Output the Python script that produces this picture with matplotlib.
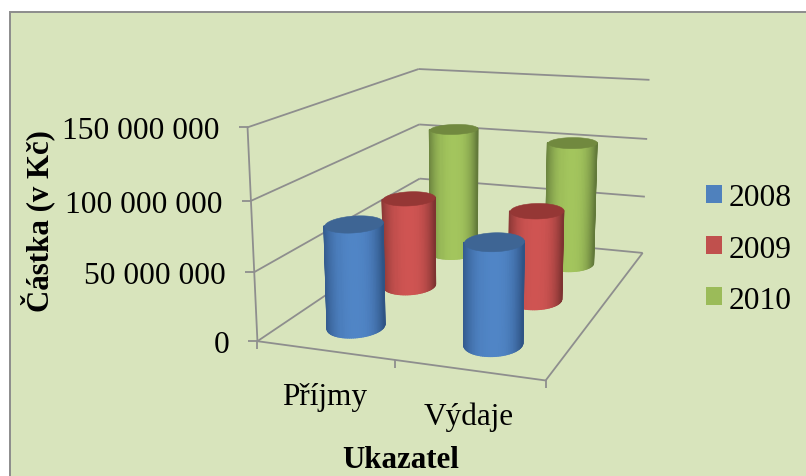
import numpy as np
import matplotlib
matplotlib.use('Agg')
import matplotlib.pyplot as plt
from matplotlib.patches import Patch, Rectangle
from mpl_toolkits.mplot3d import proj3d
from mpl_toolkits.mplot3d.art3d import Line3DCollection, Poly3DCollection

plt.rcParams['font.family'] = ['Liberation Serif', 'DejaVu Serif']

# data
categories = ['Příjmy', 'Výdaje']
years = ['2008', '2009', '2010']
values_2008 = [76000000, 73000000]
values_2009 = [71000000, 70000000]
values_2010 = [108000000, 103000000]
series = [values_2008, values_2009, values_2010]
z_ticks = [0, 50000000, 100000000, 150000000]
z_labels = ['0', '50 000 000', '100 000 000', '150 000 000']

# colours: wall centre, wall edge, top cap
bright = ['#5085C6', '#CF5452', '#A3C55D']
dark = ['#2F5485', '#7E3331', '#62793A']
caps = ['#3E6594', '#953735', '#71893F']
legend_colors = ['#4F81BD', '#C0504D', '#9BBB59']
line_color = '#8E8E8E'
W, H = 806, 477

fig = plt.figure(figsize=(W / 100, H / 100), dpi=100, facecolor='white')
fig.add_artist(Rectangle((9.5 / W, -0.05), 1, 1 - 12.7 / H + 0.05, transform=fig.transFigure,
                         facecolor='#D8E4BC', edgecolor='#8C8C8C', linewidth=1.4, zorder=-1))

# square 3d axes larger than the figure, so nothing gets clipped
ax = fig.add_axes([(W - 900) / 2 / W, (H - 900) / 2 / H, 900 / W, 900 / H],
                  projection='3d', computed_zorder=False)
ax.set_axis_off()
ax.set_facecolor('none')
ax.apply_aspect()

# camera: fit a projective map from (category, depth, amount) to pixels
cal = [(0, 0, 0, 257, 342), (2, 0, 0, 546, 382), (2, 3, 0, 642, 253), (0, 3, 0, 421, 234),
       (0, 0, 50, 254, 272), (0, 3, 50, 420, 179), (2, 3, 50, 645, 198),
       (0, 0, 100, 251, 202), (0, 3, 100, 419, 125), (2, 3, 100, 647, 140),
       (0, 0, 150, 248, 129), (0, 3, 150, 418, 70), (2, 3, 150, 650, 81),
       (1, 0, 0, 395, 361)]
rows, rhs = [], []
for cx, cy, cz, sx, sy in cal:
    sy = H - sy
    rows.append([cx, cy, cz, 1, 0, 0, 0, 0, -sx * cx, -sx * cy, -sx * cz])
    rhs.append(sx)
    rows.append([0, 0, 0, 0, cx, cy, cz, 1, -sy * cx, -sy * cy, -sy * cz])
    rhs.append(sy)
p = np.linalg.lstsq(np.array(rows, float), np.array(rhs, float), rcond=None)[0]
P = np.append(p, 1).reshape(3, 4)
P[:, 2] /= 1e6  # amounts are in Kč, the fit in millions
Q = ax.transData.inverted().get_matrix() @ P
M = np.array([Q[0], Q[1], [0, 1, 0, 0], Q[2]])
ax.get_proj = lambda: M


def to_2d(x, y, z):
    px, py, _ = proj3d.proj_transform(np.asarray(x, float), np.asarray(y, float), np.asarray(z, float), M)
    return px, py


def draw_cylinder(xc, yc, value, i, order):
    rx, ry = 0.19, 0.235
    th = np.linspace(0, 2 * np.pi, 361)
    px, _ = to_2d(xc + rx * np.cos(th), yc + ry * np.sin(th), np.full(th.size, value / 2))
    th_l, th_r = th[np.argmin(px)], th[np.argmax(px)]
    # visible half of the wall, from left silhouette through the front
    t = np.linspace(th_l, th_l + (th_r - th_l) % (2 * np.pi), 48)
    X = np.array([xc + rx * np.cos(t)] * 2)
    Y = np.array([yc + ry * np.sin(t)] * 2)
    Z = np.array([np.zeros(t.size), np.full(t.size, value)])
    sx, _ = to_2d(X[0], Y[0], Z[0])
    u = (sx - sx.min()) / (sx.max() - sx.min())
    g = 1 - np.abs(2 * (u - 0.47)) ** 2.6
    c0, c1 = np.array(matplotlib.colors.to_rgba(dark[i])), np.array(matplotlib.colors.to_rgba(bright[i]))
    col = c0 + (c1 - c0) * np.clip(g, 0, 1)[:, None]
    ax.plot_surface(X, Y, Z, facecolors=np.array([col, col]), rstride=1, cstride=1,
                    shade=False, linewidth=1.2, zorder=order)
    top = list(zip(xc + rx * np.cos(th), yc + ry * np.sin(th), np.full(th.size, value)))
    ax.add_collection3d(Poly3DCollection([top], facecolor=caps[i], edgecolor=caps[i],
                                         linewidth=0.4, zorder=order + 0.5))


# walls and floor
segs = []
for z in z_ticks:
    segs.append([(0, 0, z), (0, 3, z)])
    segs.append([(0, 3, z), (2, 3, z)])
    ax.plot([0], [0], [z], marker=0, ms=6.5, mew=1.3, ls='none', color=line_color, zorder=1)
segs.append([(0, 0, 0), (0, 0, z_ticks[-1])])
segs.append([(0, 0, 0), (2, 0, 0)])
segs.append([(2, 0, 0), (2, 3, 0)])
ax.add_collection3d(Line3DCollection(segs, colors=line_color, linewidths=1.3, zorder=1))
for x in range(3):
    ax.plot([x], [0], [0], marker=3, ms=6, mew=1.3, ls='none', color=line_color, zorder=1)

# cylinders, back row first
order = 2
for i in [2, 1, 0]:
    for k in range(2):
        draw_cylinder(k + 0.5, i + 0.5, series[i][k], i, order)
        order += 1

for z, lab in zip(z_ticks, z_labels):
    xy = to_2d(0, 0, z)
    ax.annotate(lab, (float(xy[0]), float(xy[1])), xytext=(-20.2, -2.5), textcoords='offset points',
                ha='right', va='center', fontsize=22.7, color='black')
for k, lab in enumerate(categories):
    xy = to_2d(k + 0.5, 0, 0)
    ax.annotate(lab, (float(xy[0]), float(xy[1])), xytext=(0, -33), textcoords='offset points',
                ha='center', va='center', fontsize=22.5, color='black')

fig.text(38 / W, 1 - 221 / H, 'Částka (v Kč)', rotation=90, ha='center', va='center',
         fontsize=22.2, fontweight='bold')
fig.text(401 / W, 1 - 461 / H, 'Ukazatel', ha='center', va='center', fontsize=22.2, fontweight='bold')

handles = [Patch(facecolor=c, edgecolor='none') for c in legend_colors]
fig.legend(handles, years, loc='center left', bbox_to_anchor=(706 / W, 1 - 250 / H), frameon=False,
           borderpad=0, borderaxespad=0,
           fontsize=22.7, handlelength=0.51, handleheight=0.51, handletextpad=0.22, labelspacing=0.70)

fig.savefig('out.png', dpi=100)
